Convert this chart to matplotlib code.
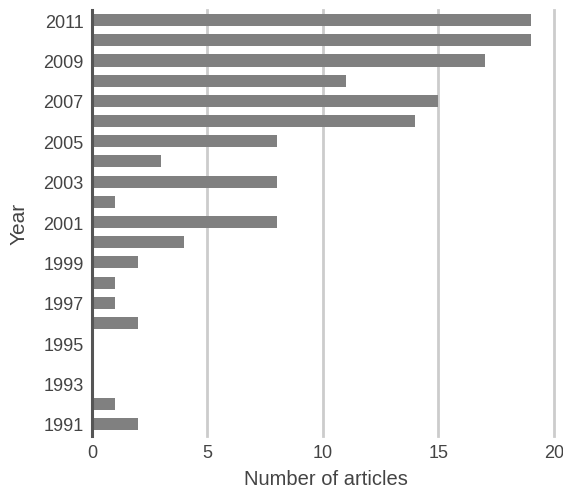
import matplotlib
matplotlib.use('Agg')
import matplotlib.pyplot as plt

# 每年的文章數
years = list(range(1991, 2012))
counts = [2, 1, 0, 0, 0, 2, 1, 1, 2, 4, 8, 1, 8, 3, 8, 14, 15, 11, 17, 19, 19]
tick_years = [1991, 1993, 1995, 1997, 1999, 2001, 2003, 2005, 2007, 2009, 2011]

plt.rcParams['font.family'] = ['Liberation Sans', 'DejaVu Sans']
text_color = '#444444'

fig = plt.figure(figsize=(5.63, 4.89), dpi=100)
ax = fig.add_axes([0.1634, 0.1063, 0.8206, 0.8712])

ax.barh(years, counts, height=0.6, color='#808080', zorder=2)

ax.set_xlim(0, 20)
ax.set_ylim(1990.4, 2011.5)
ax.set_xticks([0, 5, 10, 15, 20])
ax.set_yticks(tick_years)
ax.grid(axis='x', color='#cccccc', linewidth=2, zorder=0)
for line in ax.get_xgridlines():
    line.set_clip_on(False)
ax.tick_params(length=0, labelsize=13, labelcolor=text_color, pad=6)

for s in ['top', 'right', 'bottom']:
    ax.spines[s].set_visible(False)
ax.spines['left'].set_color('#555555')
ax.spines['left'].set_linewidth(2.2)
ax.spines['left'].set_zorder(3)

ax.set_xlabel('Number of articles', fontsize=14.5, color=text_color, va='top')
ax.xaxis.set_label_coords(0.507, -0.077)
ax.set_ylabel('Year', fontsize=15, color=text_color)
ax.yaxis.set_label_coords(-0.138, 0.5)

fig.savefig('out.png', dpi=100)
